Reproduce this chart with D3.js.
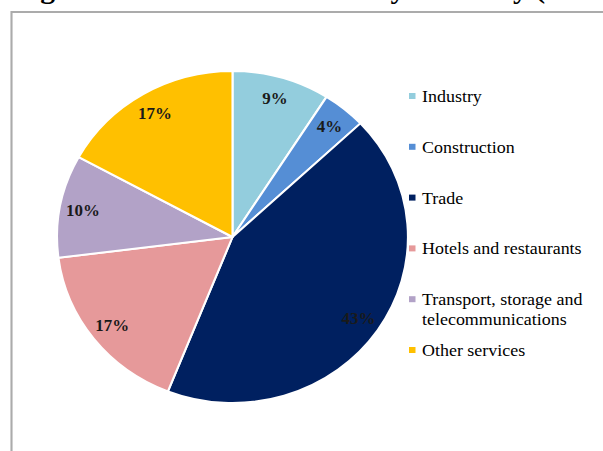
<!DOCTYPE html>
<html>
<head>
<meta charset="utf-8">
<script src="https://cdn.jsdelivr.net/npm/d3@7"></script>
<style>
  html, body { margin: 0; padding: 0; background: #fff; }
  svg { display: block; }
</style>
</head>
<body>
<svg id="chart" width="603" height="451"></svg>
<script>
// Shares of activity by sector, percent
const categories = ["Industry", "Construction", "Trade", "Hotels and restaurants",
                    "Transport, storage and telecommunications", "Other services"];
const values = [9, 4, 43, 17, 10, 17];
const colors = ["#93cddd", "#558ed5", "#002060", "#e6999a", "#b2a2c7", "#ffc000"];
const titleParts = ["Figure 3: Structure of SMEs", "by", "industry (% of total)"];

const W = 603, H = 451;
const sx = 1.057;               // horizontal stretch of the whole figure
const X = v => v / sx;          // page x -> local x inside the stretched group
const serif = "'Liberation Serif', 'Times New Roman', serif";

const svg = d3.select("#chart");
const root = svg.append("g").attr("transform", `scale(${sx},1)`);

// Title (runs off the top edge of the frame)
const title = root.append("text")
  .attr("y", -2.5)
  .attr("font-family", serif)
  .attr("font-weight", "bold").attr("font-size", 28)
  .attr("fill", "#000");
const titleX = [14, 374, 421];
titleParts.forEach((p, i) => title.append("tspan").attr("x", X(titleX[i])).text(p));

// Chart frame
root.append("path")
  .attr("d", `M${X(11.5)},${H + 5} L${X(11.5)},12 L${X(W + 5)},12`)
  .attr("fill", "none").attr("stroke", "#ababab").attr("stroke-width", 2);

// Pie
const R = 166;
const cx = X(232.5), cy = 237;
const pie = d3.pie().sort(null).value(d => d)(values);
const arc = d3.arc().innerRadius(0).outerRadius(R);
const labelArc = d3.arc().innerRadius(144).outerRadius(144);
const color = d3.scaleOrdinal().domain(categories).range(colors);

const gp = root.append("g").attr("transform", `translate(${cx},${cy})`);
gp.selectAll("path.slice").data(pie).join("path")
  .attr("class", "slice")
  .attr("d", arc)
  .attr("fill", (d, i) => color(categories[i]))
  .attr("stroke", "#fff").attr("stroke-width", 2).attr("stroke-linejoin", "round");

gp.selectAll("text.lbl").data(pie).join("text")
  .attr("class", "lbl")
  .attr("transform", d => `translate(${labelArc.centroid(d)})`)
  .attr("text-anchor", "middle").attr("dy", "0.35em")
  .attr("font-family", serif)
  .attr("font-weight", "bold").attr("font-size", 16)
  .attr("fill", "#1a1a1a")
  .text(d => d3.format(".0f")(d.data) + "%");

// Legend
const legX = X(409), textX = X(422), base0 = 102, step = 50.8, lineH = 20;
const maxW = 162;
const leg = root.append("g");
categories.forEach((c, i) => {
  const y = base0 + i * step;
  leg.append("rect")
    .attr("x", legX).attr("y", y - 9).attr("width", X(6.5)).attr("height", 6)
    .attr("fill", colors[i]);
  const t = leg.append("text")
    .attr("x", textX).attr("y", y)
    .attr("font-family", serif)
    .attr("font-size", 17).attr("fill", "#000");
  // simple word wrap
  const words = c.split(" ");
  let line = [], ts = t.append("tspan").attr("x", textX).attr("y", y), n = 0;
  words.forEach(w => {
    line.push(w);
    ts.text(line.join(" "));
    if (ts.node().getComputedTextLength() > maxW && line.length > 1) {
      line.pop();
      ts.text(line.join(" "));
      line = [w];
      n += 1;
      ts = t.append("tspan").attr("x", textX).attr("y", y + n * lineH).text(w);
    }
  });
});
</script>
</body>
</html>
